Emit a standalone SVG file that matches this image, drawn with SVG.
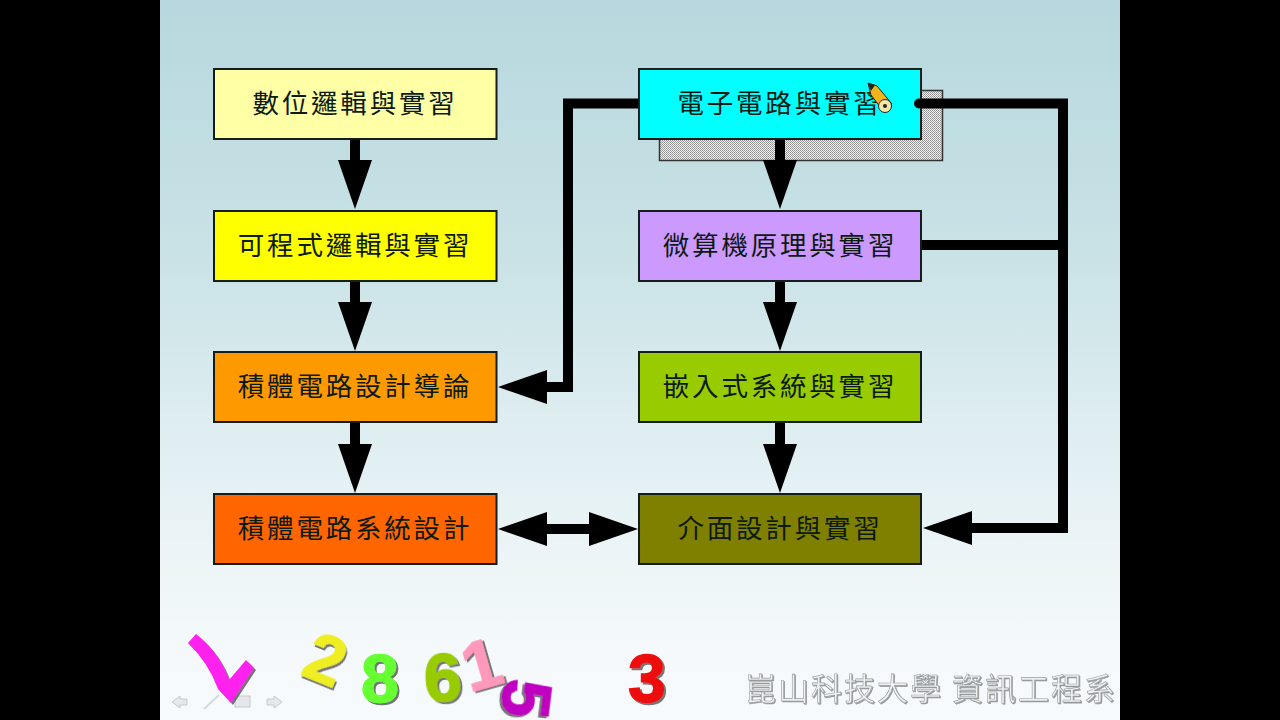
<svg xmlns="http://www.w3.org/2000/svg" width="1280" height="720" viewBox="0 0 1280 720">
<style>
.box{stroke:#141c1c;stroke-width:2}
.lbl{font-family:"Noto Sans CJK TC","Noto Sans CJK SC",sans-serif;font-size:26.500px;letter-spacing:2.800px;text-anchor:middle;fill:#0c1a12}
.wire{fill:none;stroke:#000;stroke-width:10}
.num{font-family:"Liberation Sans",Arial,sans-serif;font-weight:bold;font-size:68px;text-anchor:middle;stroke-width:1.500px;filter:url(#ds)}
.nav{fill:#e4e8ea;stroke:#c4c9cc;stroke-width:1}
</style>
<defs>
<linearGradient id="bg" x1="0" y1="0" x2="0" y2="1">
<stop offset="0" stop-color="#b7d8de"/><stop offset="0.35" stop-color="#c9e2e6"/><stop offset="0.65" stop-color="#e3f0f3"/><stop offset="0.9" stop-color="#f5f9fb"/><stop offset="1" stop-color="#f7fafb"/>
</linearGradient>
<pattern id="dots" width="2" height="2" patternUnits="userSpaceOnUse">
<rect width="2" height="2" fill="#f0f4f4"/><rect width="1" height="1" fill="#8a8a8a"/><rect x="1" y="1" width="1" height="1" fill="#a0a0a0"/>
</pattern>
<marker id="ah" markerUnits="userSpaceOnUse" markerWidth="50" markerHeight="34" refX="1" refY="17" orient="auto-start-reverse">
<polygon points="0,0 49,17 0,34"/>
</marker>
<filter id="ds" x="-30%" y="-30%" width="160%" height="160%">
<feDropShadow dx="2" dy="2" stdDeviation="0.600" flood-color="#555" flood-opacity="0.800"/>
</filter>
<filter id="emb" x="-5%" y="-20%" width="110%" height="140%">
<feDropShadow dx="1" dy="1" stdDeviation="0.400" flood-color="#999"/>
</filter>
</defs>
<rect width="1280" height="720" fill="#000"/>
<rect x="160" width="960" height="720" fill="url(#bg)"/>

<rect id="shadow" x="659.500" y="90.500" width="283" height="70" fill="url(#dots)" stroke="#333" stroke-width="1.500"/>

<g id="connectors">
<path class="wire" d="M355 139V161" marker-end="url(#ah)"/>
<path class="wire" d="M355 281V303" marker-end="url(#ah)"/>
<path class="wire" d="M355 423V445" marker-end="url(#ah)"/>
<path class="wire" d="M780 139V161" marker-end="url(#ah)"/>
<path class="wire" d="M780 281V303" marker-end="url(#ah)"/>
<path class="wire" d="M780 423V445" marker-end="url(#ah)"/>
<path class="wire" d="M638 103.500H568V387H546" marker-end="url(#ah)"/>
<path class="wire" d="M546 529H590" marker-start="url(#ah)" marker-end="url(#ah)"/>
<path class="wire" d="M921 103.500H1063V528H971" marker-end="url(#ah)"/>
<path class="wire" d="M921 245H1063"/>
</g>

<g id="n1"><rect class="box" x="214" y="69" width="282.500" height="70" fill="#ffffa6"/><text class="lbl" x="355" y="113">數位邏輯與實習</text></g>
<g id="n2"><rect class="box" x="214" y="211" width="282.500" height="70" fill="#ffff00"/><text class="lbl" x="355" y="255">可程式邏輯與實習</text></g>
<g id="n3"><rect class="box" x="214" y="352" width="282.500" height="70" fill="#ff9900"/><text class="lbl" x="355" y="396">積體電路設計導論</text></g>
<g id="n4"><rect class="box" x="214" y="494" width="282.500" height="70" fill="#ff6600"/><text class="lbl" x="355" y="538">積體電路系統設計</text></g>
<g id="n5"><rect class="box" x="639" y="69" width="282" height="70" fill="#00ffff"/><text class="lbl" x="780" y="113">電子電路與實習</text>
<circle cx="919" cy="103.500" r="5" fill="#000"/>
<g id="pencil">
<polygon points="868,83 877,86 892,104 884,112 871,95" fill="#f2b41c" stroke="#222" stroke-width="1"/>
<polygon points="868,83 875,85 871,91" fill="#222"/>
<circle cx="885" cy="106" r="6.500" fill="#f5e6a8" stroke="#222" stroke-width="1"/>
<circle cx="885" cy="106" r="2" fill="#222"/>
</g></g>
<g id="n6"><rect class="box" x="639" y="211" width="282" height="70" fill="#cc99ff"/><text class="lbl" x="780" y="255">微算機原理與實習</text></g>
<g id="n7"><rect class="box" x="639" y="352" width="282" height="70" fill="#99cc00"/><text class="lbl" x="780" y="396">嵌入式系統與實習</text></g>
<g id="n8"><rect class="box" x="639" y="494" width="282" height="70" fill="#808000"/><text class="lbl" x="780" y="538">介面設計與實習</text></g>

<g id="nav">
<polygon class="nav" points="172,702 180,696 180,699 187,699 187,705 180,705 180,708"/>
<path d="M204 709L219 695" stroke="#d4d9dc" stroke-width="2" fill="none"/>
<rect class="nav" x="235" y="696" width="15" height="11"/>
<polygon class="nav" points="282,702 274,696 274,699 267,699 267,705 274,705 274,708"/>
</g>
<path id="check" d="M188 643L196 634Q219 652 229 680L246 660L254 668L231 703L218 689Q208 662 188 643Z" fill="#ff22ee" filter="url(#ds)"/>
<text class="num" transform="translate(317 681) rotate(22)" fill="#eeee22" stroke="#eeee22">2</text>
<text class="num" transform="translate(380 702)" fill="#66ff33" stroke="#66ff33">8</text>
<text class="num" transform="translate(444 701) rotate(-3)" fill="#99cc00" stroke="#99cc00">6</text>
<text class="num" transform="translate(488 687) rotate(-16)" fill="#ff99bb" stroke="#ff99bb">1</text>
<text class="num" transform="translate(503 696) rotate(97)" fill="#c000c0" stroke="#c000c0">5</text>
<text class="num" transform="translate(647 702)" fill="#ee1111" stroke="#ee1111">3</text>
<text id="school" x="745" y="700" font-family="'Noto Sans CJK TC','Noto Sans CJK SC',sans-serif" font-size="31" letter-spacing="2" fill="#eef1f2" stroke="#979c9e" stroke-width="0.600" filter="url(#emb)">崑山科技大學 資訊工程系</text>
</svg>
